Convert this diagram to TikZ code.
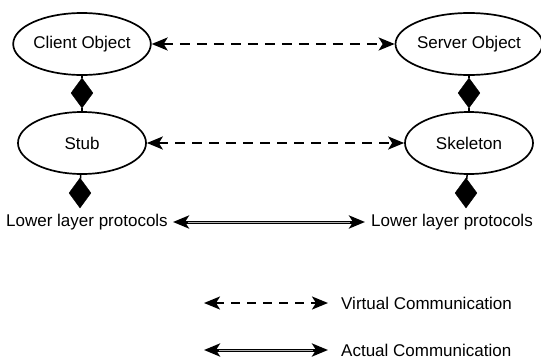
\documentclass[tikz,border=0pt]{standalone}
\usepackage{fontspec}
\setmainfont{Liberation Sans}
\usetikzlibrary{shapes.geometric,arrows.meta}
\begin{document}
\begin{tikzpicture}[x=1pt,y=-1pt,
  obj/.style={draw, ellipse, line width=1.7pt, minimum width=128pt, minimum height=62pt, inner sep=0pt, font=\fontsize{17}{19}\selectfont},
  dia/.style={draw, fill=black, diamond, minimum width=22pt, minimum height=30pt, inner sep=0pt, aspect=0.73},
  lbl/.style={inner sep=0pt, font=\fontsize{17}{19}\selectfont},
  both/.style={{Stealth[length=16pt,width=13pt,inset=4pt]}-{Stealth[length=16pt,width=13pt,inset=4pt]}},
  virt/.style={both, line width=2.2pt, dash pattern=on 10pt off 7pt},
  actual/.style={both, line width=3pt},
  core/.style={draw=gray!60, line width=0.9pt, shorten <=15pt, shorten >=15pt}
]
\useasboundingbox (0,0) rectangle (541,362);
% objects
\node[obj] (co) at (82,44) {Client Object};
\node[obj] (so) at (469,44) {Server Object};
\node[obj] (stub) at (82,143) {Stub};
\node[obj] (skel) at (469,143) {Skeleton};
% diamonds
\node[dia] (d1) at (82,93) {};
\node[dia] (d2) at (469,93) {};
\node[dia] (d3) at (80,193) {};
\node[dia] (d4) at (466,193) {};
% lower layer labels
\node[lbl] (ll) at (87,222) {Lower layer protocols};
\node[lbl] (lr) at (452,222) {Lower layer protocols};
% joins
\draw[line width=1.5pt] (co) -- (d1) -- (stub);
\draw[line width=1.5pt] (so) -- (d2) -- (skel);
\draw[line width=1.5pt] (stub) -- (d3);
\draw[line width=1.5pt] (skel) -- (d4);
% communications
\draw[virt] (co.east) -- (so.west);
\draw[virt] (stub.east) -- (skel.west);
\coordinate (la) at ([xshift=5pt]ll.east);
\coordinate (lb) at ([xshift=-6pt]lr.west);
\draw[actual] (la) -- (lb);
\draw[core] (la) -- (lb);
% legend
\coordinate (v1) at (204,303);
\coordinate (v2) at (328,303);
\coordinate (a1) at (204,350);
\coordinate (a2) at (328,350);
\draw[virt, dash pattern=on 9pt off 7pt] (v1) -- (v2);
\draw[actual] (a1) -- (a2);
\draw[core] (a1) -- (a2);
\node[lbl, anchor=west] (vt) at (341,303) {Virtual Communication};
\node[lbl, anchor=west] (at) at (341,350) {Actual Communication};
\end{tikzpicture}
\end{document}
